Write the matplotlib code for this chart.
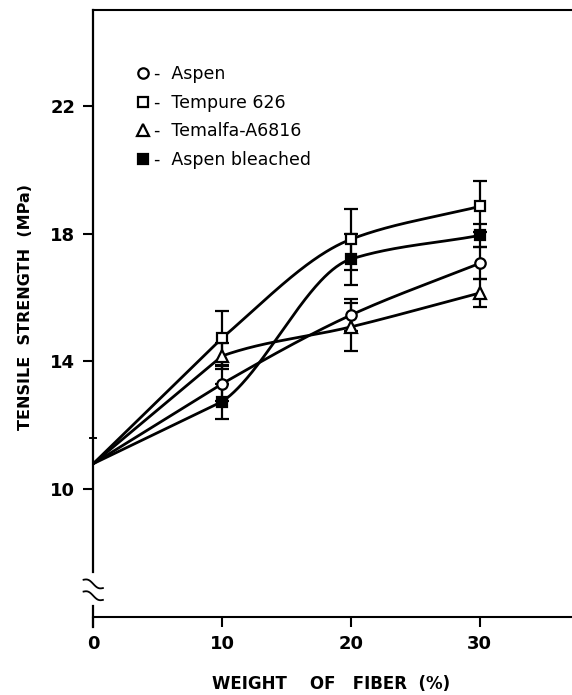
import numpy as np
import matplotlib
matplotlib.use("Agg")
import matplotlib.pyplot as plt

# fibre content (%) and tensile strength (MPa)
Fiber = [0, 10, 20, 30]
Aspen = [10.8, 13.3, 15.45, 17.07]
Tempure = [10.8, 14.73, 17.82, 18.85]
Temalfa = [10.8, 14.17, 15.08, 16.14]
Bleached = [10.8, 12.74, 17.2, 17.94]

AspenErr = [0, 0.55, 0.5, 0.5]
TempureErr = [0, 0.85, 0.95, 0.8]
TemalfaErr = [0, 0.4, 0.75, 0.45]
BleachedErr = [0, 0.55, 0.8, 0.35]

Labels = ["Aspen", "Tempure 626", "Temalfa-A6816", "Aspen bleached"]
XTicks = [0, 10, 20, 30]
YTicks = [10, 14, 18, 22]


def smooth_curve(X, Y, N=300):
    '''
    smooth_curve - straight first segment, then monotone cubic
    (Fritsch-Carlson) through the remaining points
    '''
    X = np.asarray(X, float)
    Y = np.asarray(Y, float)
    H = np.diff(X)
    D = np.diff(Y) / H
    M = np.zeros_like(Y)
    M[0] = D[0]
    M[-1] = D[-1]
    for i in range(1, len(X) - 1):
        if D[i - 1] * D[i] > 0:
            W1 = 2 * H[i] + H[i - 1]
            W2 = H[i] + 2 * H[i - 1]
            M[i] = (W1 + W2) / (W1 / D[i - 1] + W2 / D[i])
    XX = np.linspace(X[0], X[-1], N)
    YY = np.empty_like(XX)
    for j, x in enumerate(XX):
        i = min(np.searchsorted(X, x, side="right") - 1, len(X) - 2)
        t = (x - X[i]) / H[i]
        if i == 0:
            YY[j] = Y[0] + t * (Y[1] - Y[0])
            continue
        h00 = 2 * t**3 - 3 * t**2 + 1
        h10 = t**3 - 2 * t**2 + t
        h01 = -2 * t**3 + 3 * t**2
        h11 = t**3 - t**2
        YY[j] = h00 * Y[i] + h10 * H[i] * M[i] + h01 * Y[i + 1] + h11 * H[i] * M[i + 1]
    return XX, YY


fig = plt.figure(figsize=(5.72, 6.95), dpi=100)
ax = fig.add_axes([0.163, 0.112, 0.847, 0.874])

Series = [(Aspen, AspenErr, "o", "white"),
          (Tempure, TempureErr, "s", "white"),
          (Temalfa, TemalfaErr, "^", "white"),
          (Bleached, BleachedErr, "s", "black")]

Handles = []
for (Y, E, M, FC), Lab in zip(Series, Labels):
    XX, YY = smooth_curve(Fiber, Y)
    ax.plot(XX, YY, color="black", lw=2.0, zorder=2)
    ax.errorbar(Fiber[1:], Y[1:], yerr=E[1:], fmt="none", ecolor="black",
                elinewidth=1.6, capsize=5, capthick=1.6, zorder=3)
    H, = ax.plot(Fiber[1:], Y[1:], ls="none", marker=M, ms=7.5 if M != "^" else 8.5,
                 mfc=FC, mec="black", mew=1.6, zorder=4)
    Handles.append(H)

ax.legend(Handles, ["-  " + L for L in Labels], loc="upper left",
          bbox_to_anchor=(0.06, 0.935), frameon=False, handlelength=0.6,
          handletextpad=0.3, labelspacing=0.62, fontsize=12.5)

ax.set_xlim(0, 37.6)
ax.set_ylim(6.0, 25.0)

for s in ["right", "left"]:
    ax.spines[s].set_visible(False)
ax.spines["top"].set_linewidth(1.5)
ax.spines["bottom"].set_linewidth(1.5)

# broken y axis drawn by hand
ax.plot([0, 0], [7.4, 25.0], color="black", lw=1.6, clip_on=False)
ax.plot([0, 0], [5.7, 6.36], color="black", lw=1.6, clip_on=False)
T = np.linspace(-0.75, 0.75, 50)
for Yc in [7.04, 6.67]:
    ax.plot(T, Yc - 0.13 * T / 0.75 + 0.06 * np.sin(2 * np.pi * (T + 0.75) / 1.5),
            color="black", lw=1.3, clip_on=False)
ax.plot([-0.25, 0.25], [11.6, 11.6], color="black", lw=1.4, clip_on=False)

ax.set_xticks(XTicks)
ax.set_yticks(YTicks)
ax.set_xticklabels([str(v) for v in XTicks], fontsize=13, fontweight="bold")
ax.set_yticklabels([str(v) for v in YTicks], fontsize=13, fontweight="bold")
ax.tick_params(axis="both", direction="out", length=7, width=1.5, pad=6)

ax.set_xlabel("WEIGHT    OF   FIBER  (%)", fontsize=12, fontweight="bold")
ax.set_ylabel("TENSILE  STRENGTH  (MPa)", fontsize=11.5, fontweight="bold")
ax.xaxis.set_label_coords(0.49, -0.095)
ax.yaxis.set_label_coords(-0.125, 0.51)

fig.savefig("out.png", dpi=100)
